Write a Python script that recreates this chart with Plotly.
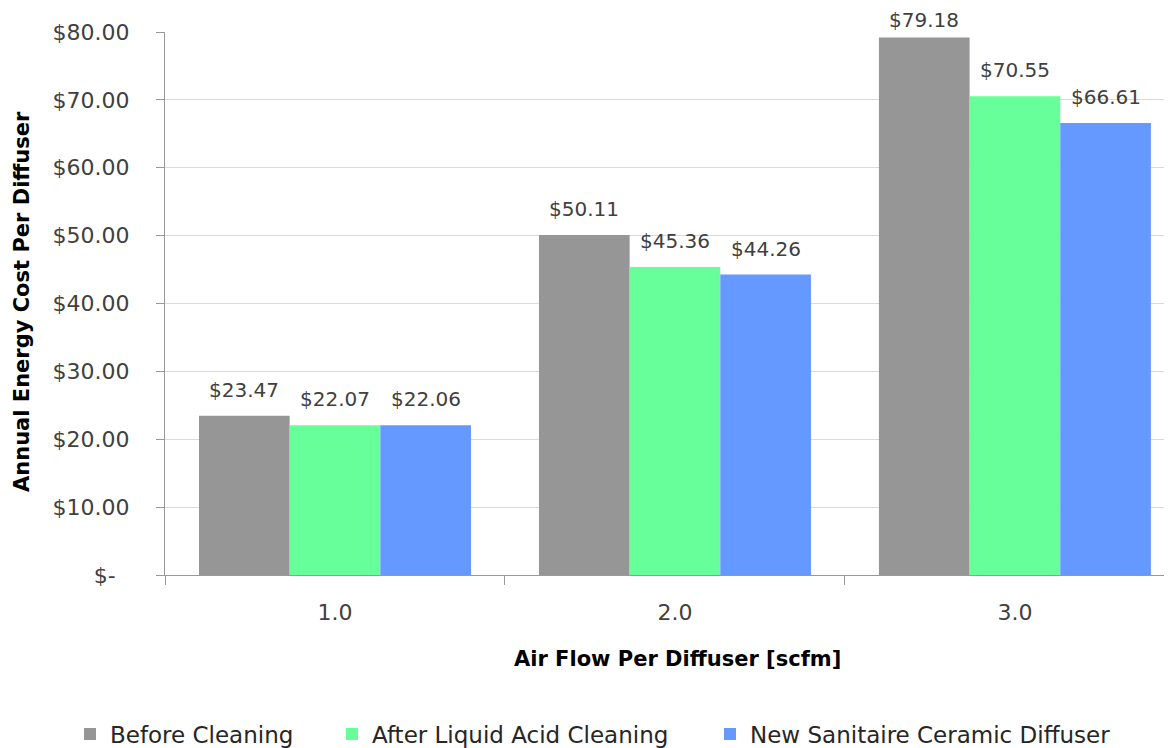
import plotly.graph_objects as go

categories = ["1.0", "2.0", "3.0"]
series_names = ["Before Cleaning", "After Liquid Acid Cleaning", "New Sanitaire Ceramic Diffuser"]
before_cleaning = [23.47, 50.11, 79.18]
after_acid = [22.07, 45.36, 70.55]
new_ceramic = [22.06, 44.26, 66.61]
colors = ["#969696", "#66FF99", "#6699FF"]
y_tickvals = [0, 10, 20, 30, 40, 50, 60, 70, 80]
y_ticktext = ["$-\u00a0\u00a0", "$10.00", "$20.00", "$30.00", "$40.00", "$50.00", "$60.00", "$70.00", "$80.00"]

FONT = "DejaVu Sans"
W, H = 1172, 748
OFF = 8  # page body margin of the browser
# target layout in page pixels
P_LEFT, P_TOP, P_BOTTOM, P_RIGHT = 165, 32, 575, 1172
ML = P_LEFT - OFF
MT = P_TOP - OFF
MB = H - (P_BOTTOM - OFF)
MR = W - (P_RIGHT - OFF)
PW = W - ML - MR
PH = H - MT - MB
YMAX = 80
XR = [-0.5, 2.462]
cat_px = PW / (XR[1] - XR[0])
bar_px = cat_px * 0.8 / 3


def px_x(p):
    return (p - OFF - ML) / PW


def px_y(p):
    return (MT + PH - (p - OFF)) / PH


legend_names = ["legend", "legend2", "legend3"]
legend_text_left = [110, 372, 750]

fig = go.Figure()
all_vals = [before_cleaning, after_acid, new_ceramic]
for i, (name, vals, col) in enumerate(zip(series_names, all_vals, colors)):
    fig.add_trace(go.Bar(
        x=categories, y=vals, name=name, marker_color=col, marker_line_width=0,
        legend=legend_names[i],
    ))
    for j, v in enumerate(vals):
        top_page = P_TOP + (YMAX - v) * PH / YMAX
        center_gap = 26
        if top_page - center_gap < 19.5:
            center_gap = top_page - 19.5
        fig.add_annotation(
            x=j, y=v, xref="x", yref="y", text="$%.2f" % v, showarrow=False,
            xanchor="center", yanchor="middle", xshift=(i - 1) * bar_px, yshift=center_gap,
            font=dict(family=FONT, size=20, color="#404040"),
        )

legend_common = dict(orientation="h", yanchor="middle", xanchor="left",
                     font=dict(family=FONT, size=23, color="#262626"), itemwidth=30,
                     bgcolor="rgba(0,0,0,0)")
layout_legends = {}
for ln, tl in zip(legend_names, legend_text_left):
    layout_legends[ln] = dict(legend_common, x=px_x(tl - 40), y=px_y(734))

fig.update_layout(
    width=W, height=H,
    margin=dict(l=ML, r=MR, t=MT, b=MB, autoexpand=False),
    plot_bgcolor="white", paper_bgcolor="white",
    barmode="group", bargap=0.2, bargroupgap=0,
    showlegend=True,
    font=dict(family=FONT, color="#404040"),
    **layout_legends,
)
fig.update_xaxes(
    type="category", categoryorder="array", categoryarray=categories,
    range=XR, tickson="boundaries", ticks="outside", automargin=False,
    ticklen=9, tickcolor="#999999", showline=True, linecolor="#999999", linewidth=1,
    showgrid=False, tickfont=dict(family=FONT, size=22, color="#404040"),
    ticklabelstandoff=18,
)
fig.update_yaxes(
    range=[0, YMAX], tickvals=y_tickvals, ticktext=y_ticktext, ticks="outside", automargin=False,
    ticklen=8, tickcolor="#999999", showline=True, linecolor="#999999", linewidth=1,
    showgrid=True, gridcolor="#d9d9d9", gridwidth=1, zeroline=False,
    tickfont=dict(family=FONT, size=22, color="#404040"), ticklabelstandoff=22,
)
fig.add_annotation(text="<b>Air Flow Per Diffuser [scfm]</b>", xref="paper", yref="paper",
                   x=px_x(677), y=px_y(659), xanchor="center", yanchor="middle",
                   showarrow=False, font=dict(family=FONT, size=21, color="#000000"))
fig.add_annotation(text="<b>Annual Energy Cost Per Diffuser</b>", xref="paper", yref="paper",
                   x=px_x(22), y=px_y(302), xanchor="center", yanchor="middle",
                   textangle=-90, showarrow=False, font=dict(family=FONT, size=21, color="#000000"))
fig.write_html("out.html")
